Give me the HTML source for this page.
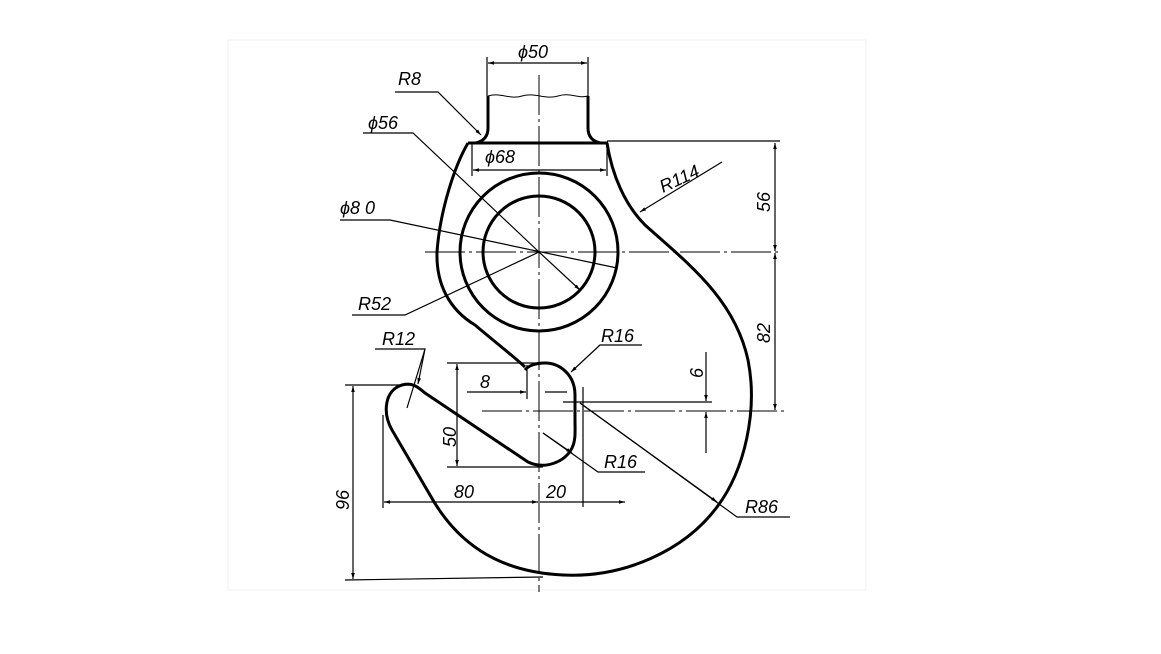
<!DOCTYPE html>
<html><head><meta charset="utf-8"><style>
html,body{margin:0;padding:0;background:#fff;}
svg{display:block;}
text{font-family:"Liberation Sans",sans-serif;font-style:italic;font-size:18px;fill:#000;}
</style></head><body>
<svg width="1161" height="654" viewBox="0 0 1161 654" xmlns="http://www.w3.org/2000/svg">
<rect x="228" y="40" width="638" height="550" fill="#fff" stroke="#f2f2f2" stroke-width="1"/>
<defs>
<marker id="a" viewBox="0 0 10 10" refX="10" refY="5" markerWidth="9" markerHeight="6" orient="auto-start-reverse" markerUnits="userSpaceOnUse"><path d="M0,2 L10,5 L0,8z" fill="#000"/></marker>
</defs>
<g stroke="#000" stroke-width="1" fill="none" stroke-dasharray="40 4 3 4">
<line x1="539" y1="75" x2="539" y2="592"/>
<line x1="425" y1="252" x2="782" y2="252"/>
<line x1="482" y1="411" x2="788" y2="411"/>
</g>
<g stroke="#000" stroke-width="3" fill="none" stroke-linejoin="round">
<path d="M488,96 L488,128 Q488,140 476,143"/>
<path d="M588,96 L588,128 Q588,140 600,143"/>
<line x1="468" y1="143" x2="608" y2="143"/>
<path d="M468,143 C455,165 440,210 437,252 C436,285 450,310 475,325 C495,342 512,355 525,367"/>
<circle cx="539" cy="252" r="56"/>
<circle cx="539" cy="252" r="79"/>
<path d="M607,143 C612,175 625,205 645,225 C690,265 735,300 748,360 C758,410 745,470 717,507 C685,550 625,578 563,575 C495,572 455,540 430,495 L392,430 C382,412 385,390 402,385 C412,382 418,387 425,393 L528,462 C545,470 565,462 572,448 C576,440 575,430 575,420 L575,395 C575,375 560,363 545,363 C535,363 528,366 525,370"/>
</g>
<path d="M488,96 C500,92 510,100 522,96 C535,92 545,100 558,96 C570,92 578,99 588,96" stroke="#000" stroke-width="1" fill="none"/>
<g stroke="#000" stroke-width="1.2" fill="none">
<line x1="487" y1="57" x2="487" y2="96"/><line x1="588" y1="57" x2="588" y2="96"/>
<line x1="488" y1="63" x2="587" y2="63" marker-start="url(#a)" marker-end="url(#a)"/>
<polyline points="395,92 438,92 481,135" marker-end="url(#a)"/>
<polyline points="363,133 413,133 539,252"/>
<line x1="539" y1="252" x2="580" y2="290" marker-end="url(#a)"/>
<line x1="472" y1="143" x2="472" y2="176"/><line x1="607" y1="143" x2="607" y2="176"/>
<line x1="473" y1="170" x2="606" y2="170" marker-start="url(#a)" marker-end="url(#a)"/>
<polyline points="340,220 390,220 617,268"/>
<polyline points="352,315 405,315 539,252"/>
<line x1="722" y1="162" x2="640" y2="212" marker-end="url(#a)"/>
<line x1="607" y1="141" x2="780" y2="141"/>
<line x1="775" y1="143" x2="775" y2="251" marker-start="url(#a)" marker-end="url(#a)"/>
<line x1="775" y1="253" x2="775" y2="410" marker-start="url(#a)" marker-end="url(#a)"/>
<line x1="563" y1="402" x2="712" y2="402"/>
<line x1="706" y1="352" x2="706" y2="401" marker-end="url(#a)"/>
<line x1="706" y1="453" x2="706" y2="412" marker-end="url(#a)"/>
<polyline points="642,345 600,345 571,372" marker-end="url(#a)"/>
<line x1="527" y1="365" x2="527" y2="399"/>
<line x1="467" y1="392" x2="526" y2="392" marker-end="url(#a)"/>
<line x1="545" y1="392" x2="567" y2="392"/>
<line x1="447" y1="363" x2="543" y2="363"/><line x1="447" y1="467" x2="543" y2="467"/>
<line x1="457" y1="364" x2="457" y2="466" marker-start="url(#a)" marker-end="url(#a)"/>
<polyline points="375,349 425,349 407,408"/>
<line x1="425" y1="349" x2="418" y2="384" marker-end="url(#a)"/>
<line x1="345" y1="385" x2="412" y2="385"/>
<line x1="345" y1="580" x2="543" y2="577"/>
<line x1="353" y1="386" x2="353" y2="579" marker-start="url(#a)" marker-end="url(#a)"/>
<line x1="383" y1="415" x2="383" y2="508"/>
<line x1="583" y1="387" x2="583" y2="507"/>
<line x1="384" y1="502" x2="538" y2="502" marker-start="url(#a)" marker-end="url(#a)"/>
<line x1="540" y1="502" x2="625" y2="502" marker-end="url(#a)"/>
<polyline points="543,433 598,472 645,472"/>
<line x1="543" y1="433" x2="572" y2="453" marker-end="url(#a)"/>
<polyline points="580,403 737,517 790,517"/>
<line x1="580" y1="403" x2="717" y2="502" marker-end="url(#a)"/>
</g>
<text x="518" y="58">ϕ50</text>
<text x="398" y="85">R8</text>
<text x="368" y="129">ϕ56</text>
<text x="485" y="163">ϕ68</text>
<text x="340" y="214">ϕ8 0</text>
<text x="358" y="310">R52</text>
<text x="663" y="193" transform="rotate(-25 663 193)">R114</text>
<text transform="translate(770 212) rotate(-90)">56</text>
<text transform="translate(770 343) rotate(-90)">82</text>
<text transform="translate(703 378) rotate(-90)">6</text>
<text x="601" y="342">R16</text>
<text x="480" y="388">8</text>
<text transform="translate(456 447) rotate(-90)">50</text>
<text x="382" y="345">R12</text>
<text transform="translate(349 510) rotate(-90)">96</text>
<text x="454" y="498">80</text>
<text x="546" y="498">20</text>
<text x="604" y="468">R16</text>
<text x="745" y="513">R86</text>
</svg>
</body></html>
